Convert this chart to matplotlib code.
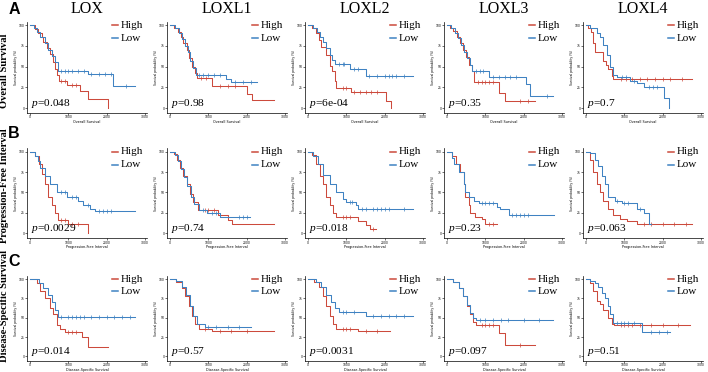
import numpy as np
import matplotlib
matplotlib.use('Agg')
import matplotlib.pyplot as plt

# genes (columns) and endpoints (rows)
genes = ['LOX', 'LOXL1', 'LOXL2', 'LOXL3', 'LOXL4']
endpoints = ['Overall Survival', 'Progression-Free Interval', 'Disease-Specific Survival']
letters = ['A', 'B', 'C']

p_os = ['0.048', '0.98', '6e-04', '0.35', '0.7']
p_pfi = ['0.0029', '0.74', '0.018', '0.23', '0.063']
p_dss = ['0.014', '0.57', '0.0031', '0.097', '0.51']

# Overall survival, High group: event times (days), survival after each step, last follow-up, censor times
os_high_t = [[130, 217, 305, 350, 435, 520, 610, 650, 700, 765, 955, 1300, 1520, 2040],
             [100, 200, 280, 350, 430, 500, 580, 650, 700, 1090, 2000, 2150],
             [100, 200, 280, 350, 480, 565, 635, 700, 740, 1130, 2045, 2175],
             [80, 160, 250, 330, 420, 500, 580, 640, 700, 1350, 1520],
             [60, 120, 190, 235, 450, 520, 580, 670, 715]]
os_high_s = [[0.95, 0.9, 0.85, 0.8, 0.72, 0.65, 0.55, 0.47, 0.4, 0.32, 0.28, 0.2, 0.11, 0.0],
             [0.97, 0.92, 0.85, 0.78, 0.7, 0.6, 0.5, 0.42, 0.36, 0.26, 0.17, 0.1],
             [0.97, 0.9, 0.82, 0.74, 0.64, 0.51, 0.45, 0.33, 0.24, 0.19, 0.09, 0.0],
             [0.97, 0.93, 0.86, 0.78, 0.7, 0.62, 0.52, 0.45, 0.31, 0.18, 0.09],
             [0.97, 0.92, 0.78, 0.67, 0.57, 0.52, 0.47, 0.39, 0.35]]
os_high_end = [2040, 2700, 2175, 2300, 2760]
os_high_c = [[800, 900, 1100, 1200],
             [800, 950, 1300, 1500, 1700],
             [900, 1000, 1200, 1350, 1500, 1650, 1800],
             [800, 900, 1000, 1100, 1200, 1900, 2100],
             [900, 1050, 1200, 1400, 1600, 1800, 2000, 2200, 2500]]

os_low_t = [[90, 175, 260, 390, 480, 565, 650, 740, 1520, 2175],
            [120, 230, 300, 380, 460, 530, 600, 680, 1450, 1600],
            [130, 220, 300, 390, 480, 565, 630, 700, 1090, 1500],
            [100, 200, 280, 370, 450, 530, 600, 650, 1090, 2050, 2170],
            [100, 280, 370, 450, 540, 620, 700, 800, 1150, 1320, 1500, 2030, 2160]]
os_low_s = [[0.97, 0.92, 0.86, 0.78, 0.7, 0.63, 0.55, 0.45, 0.41, 0.27],
            [0.96, 0.9, 0.83, 0.75, 0.67, 0.57, 0.48, 0.4, 0.35, 0.31],
            [0.96, 0.92, 0.86, 0.8, 0.72, 0.64, 0.58, 0.53, 0.47, 0.39],
            [0.96, 0.9, 0.84, 0.76, 0.68, 0.6, 0.52, 0.44, 0.37, 0.29, 0.14],
            [0.96, 0.9, 0.85, 0.76, 0.64, 0.5, 0.4, 0.37, 0.33, 0.3, 0.25, 0.12, 0.0]]
os_low_end = [2740, 2260, 2740, 2770, 2160]
os_low_c = [[800, 900, 1000, 1100, 1250, 1400, 1600, 1800, 1950, 2100, 2500],
            [750, 850, 1000, 1150, 1300, 1700, 1900, 2100],
            [800, 900, 950, 1200, 1300, 1600, 1800, 2000, 2100, 2200, 2300, 2500],
            [750, 850, 950, 1200, 1350, 1500, 1650, 1800, 2600],
            [950, 1050, 1250, 1650, 1750, 1850]]

# Progression-free interval
pfi_high_t = [[130, 220, 300, 390, 480, 560, 650, 740, 1000, 1520],
              [100, 170, 260, 350, 440, 520, 610, 740, 1260, 1500, 1610],
              [100, 200, 300, 390, 480, 570, 650, 740, 1300, 1520, 1610],
              [130, 220, 350, 440, 480, 570, 610, 740, 920, 1000],
              [100, 190, 280, 370, 450, 580, 710, 890, 1060, 1320]]
pfi_high_s = [[0.95, 0.85, 0.73, 0.6, 0.45, 0.35, 0.25, 0.16, 0.12, 0.0],
              [0.97, 0.9, 0.8, 0.7, 0.6, 0.48, 0.38, 0.28, 0.22, 0.16, 0.11],
              [0.96, 0.85, 0.7, 0.6, 0.45, 0.35, 0.25, 0.2, 0.15, 0.1, 0.05],
              [0.95, 0.85, 0.75, 0.6, 0.45, 0.35, 0.25, 0.2, 0.17, 0.12],
              [0.9, 0.75, 0.6, 0.5, 0.4, 0.3, 0.22, 0.17, 0.15, 0.12]]
pfi_high_end = [1520, 2700, 1780, 1290, 2760]
pfi_high_c = [[800, 900, 1100, 1250],
              [900, 1000, 1150, 1300],
              [900, 1000, 1100, 1700],
              [1100, 1200],
              [1500, 1700, 2000, 2300, 2600]]

pfi_low_t = [[130, 200, 260, 390, 520, 700, 960, 1260, 1390, 1560, 1700],
             [120, 200, 280, 370, 450, 540, 620, 760, 960, 1300],
             [130, 260, 390, 560, 740, 910, 1000, 1260, 1310],
             [130, 170, 300, 440, 480, 570, 700, 830, 1300, 1390, 1610],
             [100, 240, 320, 410, 500, 580, 760, 930, 1320, 1500, 1630]]
pfi_low_s = [[0.95, 0.88, 0.8, 0.7, 0.6, 0.5, 0.45, 0.4, 0.35, 0.3, 0.27],
             [0.96, 0.88, 0.79, 0.69, 0.58, 0.45, 0.36, 0.29, 0.25, 0.2],
             [0.95, 0.85, 0.72, 0.6, 0.5, 0.42, 0.38, 0.35, 0.3],
             [0.92, 0.85, 0.75, 0.6, 0.5, 0.45, 0.4, 0.37, 0.32, 0.3, 0.22],
             [0.98, 0.9, 0.82, 0.7, 0.6, 0.45, 0.4, 0.37, 0.3, 0.25, 0.12]]
pfi_low_end = [2740, 2090, 2740, 2780, 1700]
pfi_low_c = [[800, 900, 1100, 1200, 1500, 1800, 1900, 2000, 2100],
             [850, 1100, 1200, 1800, 1900, 2000],
             [1100, 1150, 1400, 1500, 1700, 1800, 1900, 2000, 2100, 2500],
             [900, 1000, 1100, 1200, 1700, 1800, 1900, 2000, 2100],
             [800, 1000, 1100, 1400]]

# Disease-specific survival
dss_high_t = [[170, 260, 390, 520, 610, 700, 780, 910, 1350, 1520],
              [150, 300, 400, 500, 580, 650, 750, 1100],
              [150, 280, 380, 470, 560, 640, 720, 1300],
              [150, 300, 420, 520, 600, 680, 750, 1350, 1520],
              [100, 190, 280, 370, 450, 580, 670, 720]]
dss_high_s = [[0.95, 0.85, 0.75, 0.62, 0.55, 0.4, 0.35, 0.32, 0.25, 0.12],
              [0.96, 0.88, 0.78, 0.65, 0.52, 0.42, 0.35, 0.33],
              [0.96, 0.9, 0.78, 0.65, 0.52, 0.42, 0.36, 0.33],
              [0.96, 0.88, 0.78, 0.65, 0.55, 0.45, 0.4, 0.3, 0.15],
              [0.95, 0.85, 0.72, 0.68, 0.6, 0.5, 0.42, 0.4]]
dss_high_end = [2040, 2700, 2150, 2300, 2710]
dss_high_c = [[1000, 1100, 1200],
              [900, 1300, 1600, 2000],
              [900, 1000, 1100, 1500, 1800],
              [900, 1000, 1100, 1200, 1900],
              [900, 1000, 1100, 1200, 1400, 1700, 2000, 2400]]

dss_low_t = [[220, 350, 480, 570, 650, 720],
             [150, 300, 420, 520, 600, 700, 900],
             [200, 350, 480, 600, 700, 800, 1500],
             [150, 300, 420, 520, 600, 680, 750],
             [100, 240, 320, 410, 500, 580, 630, 700, 1450]]
dss_low_s = [[0.95, 0.88, 0.8, 0.7, 0.6, 0.51],
             [0.97, 0.9, 0.8, 0.65, 0.52, 0.42, 0.38],
             [0.96, 0.9, 0.8, 0.7, 0.62, 0.57, 0.52],
             [0.96, 0.88, 0.78, 0.66, 0.56, 0.5, 0.47],
             [0.98, 0.95, 0.9, 0.82, 0.75, 0.65, 0.55, 0.43, 0.32]]
dss_low_end = [2740, 2100, 2740, 2770, 2190]
dss_low_c = [[800, 1000, 1100, 1200, 1300, 1400, 1600, 1800, 2000, 2200, 2400, 2600],
             [1000, 1200, 1500, 1800],
             [900, 1000, 1200, 1700, 1900, 2100, 2300, 2500],
             [850, 1000, 1200, 1400, 1600, 2000, 2400],
             [800, 900, 1000, 1100, 1250, 1700, 1900, 2100]]

rows = [
    (p_os, os_high_t, os_high_s, os_high_end, os_high_c, os_low_t, os_low_s, os_low_end, os_low_c),
    (p_pfi, pfi_high_t, pfi_high_s, pfi_high_end, pfi_high_c, pfi_low_t, pfi_low_s, pfi_low_end, pfi_low_c),
    (p_dss, dss_high_t, dss_high_s, dss_high_end, dss_high_c, dss_low_t, dss_low_s, dss_low_end, dss_low_c),
]

RED = '#cc4a3c'
BLUE = '#3f82c2'
SERIF = 'Liberation Serif'

plt.rcParams['mathtext.fontset'] = 'custom'
plt.rcParams['mathtext.it'] = 'Liberation Serif:italic'
plt.rcParams['mathtext.rm'] = 'Liberation Serif'

W, H = 708, 372
fig = plt.figure(figsize=(W / 100, H / 100), dpi=100)


def fx(x):
    return x / W


def fy(y):
    return 1 - y / H


# pixel boxes: (top, bottom) of each row, left of each column
row_box = [(21.7, 113.0), (148.4, 238.2), (276.0, 361.0)]
col_left = [27, 167, 305, 444, 583]
ax_w = 120


def draw_km(ax, t, s, end, cens, color):
    xs = [0] + list(t) + [end]
    ys = [1.0] + list(s) + [s[-1]]
    ax.step(xs, np.array(ys) * 100, where='post', color=color, lw=0.75)
    tt = np.array([0] + list(t))
    ss = np.array([1.0] + list(s))
    cs = np.array([c for c in cens if c < end])
    idx = np.searchsorted(tt, cs, side='right') - 1
    ax.plot(cs, ss[idx] * 100, ls='none', marker='|', ms=2.2, mew=0.5, color=color)


for r, (pv, ht, hs, he, hc, lt, ls_, le, lc) in enumerate(rows):
    top, bot = row_box[r]
    for c in range(5):
        ax = fig.add_axes([fx(col_left[c]), fy(bot), ax_w / W, (bot - top) / H])
        draw_km(ax, ht[c], hs[c], he[c], hc[c], RED)
        draw_km(ax, lt[c], ls_[c], le[c], lc[c], BLUE)
        ax.set_xlim(-80, 3050)
        ax.set_ylim(-6, 104)
        ax.set_xticks([0, 1000, 2000, 3000])
        ax.set_yticks([0, 25, 50, 75, 100])
        ax.tick_params(labelsize=2.2, length=1.2, width=0.4, pad=0.6)
        for sp in ['top', 'right']:
            ax.spines[sp].set_visible(False)
        for sp in ['left', 'bottom']:
            ax.spines[sp].set_linewidth(0.5)
        ax.set_xlabel(endpoints[r], fontsize=2.4, labelpad=0.5)
        ax.set_ylabel('Survival probability (%)', fontsize=2.2, labelpad=0.8)

        # p-value
        ax.text(30, 2.5, '$p$=' + pv[c], fontsize=8.2, family=SERIF, va='baseline')

        # legend
        for k, (lab, colr) in enumerate([('High', RED), ('Low', BLUE)]):
            yy = 0.96 - k * 0.14
            ax.plot([0.71, 0.755], [yy, yy], color=colr, lw=1.1, transform=ax.transAxes, clip_on=False)
            ax.text(0.78, yy, lab, fontsize=8, family=SERIF, va='center', transform=ax.transAxes)

# column titles
for c, g in enumerate(genes):
    fig.text(fx(col_left[c] + ax_w / 2), fy(9), g, fontsize=11.5, family=SERIF, ha='center', va='center')

# row labels and panel letters
row_mid = [71, 186, 306]
let_y = [10, 133, 262]
for r in range(3):
    fig.text(fx(5), fy(row_mid[r]), endpoints[r], fontsize=7.6, family=SERIF, weight='bold',
             rotation=90, ha='center', va='center')
    fig.text(fx(14), fy(let_y[r]), letters[r], fontsize=11.5, family='Liberation Sans', weight='bold',
             ha='center', va='center')

fig.savefig('out.png', dpi=100)
